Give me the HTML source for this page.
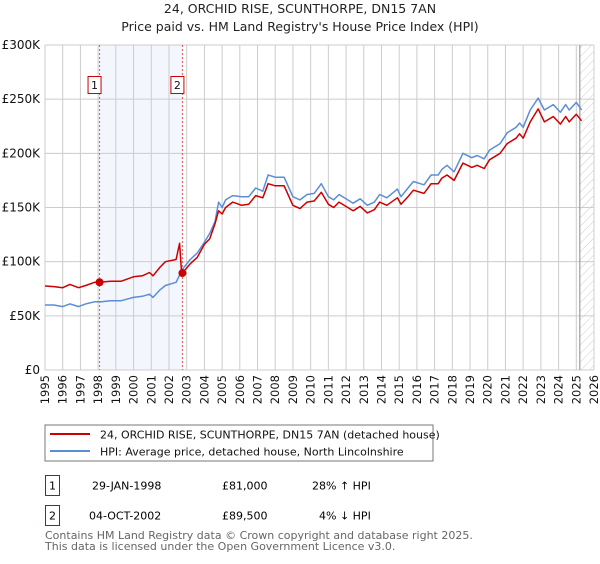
<!DOCTYPE html>
<html><head><meta charset="utf-8"><style>
body{margin:0;background:#fff;font-family:"DejaVu Sans","Liberation Sans",sans-serif;}
svg text{font-family:"DejaVu Sans","Liberation Sans",sans-serif;}
</style></head><body>
<svg id="chart" width="600" height="560" viewBox="0 0 600 560">
<defs><pattern id="hatch" patternUnits="userSpaceOnUse" width="6" height="6" patternTransform="rotate(45)"><line x1="0" y1="0" x2="0" y2="6" stroke="#ccc" stroke-width="1"/></pattern></defs>
<text x="300" y="13" text-anchor="middle" font-size="12.5" fill="#222">24, ORCHID RISE, SCUNTHORPE, DN15 7AN</text>
<text x="300" y="31" text-anchor="middle" font-size="12.5" fill="#222">Price paid vs. HM Land Registry's House Price Index (HPI)</text>
<g id="grid"></g>
<g id="series"></g>
<g id="axes"></g>
<rect x="45" y="425" width="388" height="36" fill="#fff" stroke="#777"/>
<line x1="50" y1="434" x2="90" y2="434" stroke="#cc0000" stroke-width="2"/>
<text x="100" y="438.5" font-size="11" fill="#111">24, ORCHID RISE, SCUNTHORPE, DN15 7AN (detached house)</text>
<line x1="50" y1="451" x2="90" y2="451" stroke="#5b8ed6" stroke-width="2"/>
<text x="100" y="455.5" font-size="11" fill="#111">HPI: Average price, detached house, North Lincolnshire</text>
<rect x="45.5" y="475.5" width="14" height="20" fill="none" stroke="#cc0000"/>
<text x="52.5" y="489.5" text-anchor="middle" font-size="11">1</text>
<text x="92" y="489.5" font-size="11">29-JAN-1998</text>
<text x="222" y="489.5" font-size="11">£81,000</text>
<text x="312" y="489.5" font-size="11">28% ↑ HPI</text>
<rect x="45.5" y="505.5" width="14" height="20" fill="none" stroke="#cc0000"/>
<text x="52.5" y="519.5" text-anchor="middle" font-size="11">2</text>
<text x="89" y="519.5" font-size="11">04-OCT-2002</text>
<text x="222" y="519.5" font-size="11">£89,500</text>
<text x="319" y="519.5" font-size="11">4% ↓ HPI</text>
<text x="45" y="539" font-size="11" fill="#666">Contains HM Land Registry data © Crown copyright and database right 2025.</text>
<text x="45" y="550" font-size="11" fill="#666">This data is licensed under the Open Government Licence v3.0.</text>
</svg>
<script>
const yearTicks=[1995,1996,1997,1998,1999,2000,2001,2002,2003,2004,2005,2006,2007,2008,2009,2010,2011,2012,2013,2014,2015,2016,2017,2018,2019,2020,2021,2022,2023,2024,2025,2026];
const valueTicks=[0,50000,100000,150000,200000,250000,300000];
const valueLabels=["£0","£50K","£100K","£150K","£200K","£250K","£300K"];
const hpiYears=[1995.0,1995.5,1996.0,1996.4,1996.9,1997.3,1997.8,1998.2,1998.7,1999.3,2000.0,2000.5,2000.9,2001.1,2001.5,2001.8,2002.4,2002.76,2003.2,2003.6,2004.0,2004.3,2004.6,2004.8,2005.0,2005.2,2005.6,2006.1,2006.5,2006.9,2007.3,2007.6,2008.0,2008.5,2009.0,2009.4,2009.8,2010.2,2010.6,2011.0,2011.3,2011.6,2012.1,2012.4,2012.8,2013.2,2013.6,2013.9,2014.3,2014.9,2015.1,2015.5,2015.8,2016.4,2016.8,2017.2,2017.4,2017.7,2018.1,2018.6,2019.1,2019.4,2019.8,2020.1,2020.7,2021.1,2021.6,2021.8,2022.0,2022.4,2022.85,2023.2,2023.7,2024.1,2024.4,2024.6,2025.0,2025.3];
const hpiValues=[60,60,58.5,61,58.5,61,63,63,64,64,67,68,70,67,74,78,81,93,102,108,118,126,137,155,150,157,161,160,160,168,165,180,178,178,160,157,162,163,172,160,157,162,157,154,158,152,155,162,159,167,160,168,174,171,180,180,185,189,183,200,196,198,195,203,209,219,224,228,224,240,251,240,245,238,245,240,247,240];
const propYears=[1995.0,1995.5,1996.0,1996.4,1996.9,1997.3,1997.8,1998.08,1998.7,1999.3,2000.0,2000.5,2000.9,2001.1,2001.5,2001.8,2002.4,2002.6,2002.7,2002.76,2003.2,2003.6,2004.0,2004.3,2004.6,2004.8,2005.0,2005.2,2005.6,2006.1,2006.5,2006.9,2007.3,2007.6,2008.0,2008.5,2009.0,2009.4,2009.8,2010.2,2010.6,2011.0,2011.3,2011.6,2012.1,2012.4,2012.8,2013.2,2013.6,2013.9,2014.3,2014.9,2015.1,2015.5,2015.8,2016.4,2016.8,2017.2,2017.4,2017.7,2018.1,2018.6,2019.1,2019.4,2019.8,2020.1,2020.7,2021.1,2021.6,2021.8,2022.0,2022.4,2022.85,2023.2,2023.7,2024.1,2024.4,2024.6,2025.0,2025.3];
const propValues=[77.5,77,76,79,76,78,81,81,82,82,86,87,90,87,95,100,102,117,92,89.5,98,104,116,121,135,147,144,150,155,152,153,161,159,172,170,170,152,149,155,156,164,153,150,155,150,147,151,145,148,155,152,159,153,160,166,163,172,172,177,180,175,191,187,189,186,194,200,209,214,218,214,229,241,229,234,227,234,229,236,230];
const saleYears=[1998.08,2002.76];
const salePrices=[81000,89500];
const saleLabels=["1","2"];
const forecastStart=2025.2;

const NS="http://www.w3.org/2000/svg";
const L=45,R=594,T=45,B=370;
const x=y=>L+(y-1995)/(2026-1995)*(R-L);
const yv=v=>B-v/300000*(B-T);
function mk(tag,attrs,parent){const e=document.createElementNS(NS,tag);for(const k in attrs)e.setAttribute(k,attrs[k]);parent.appendChild(e);return e;}
const grid=document.getElementById('grid'),series=document.getElementById('series'),axes=document.getElementById('axes');

let shade=mk('rect',{x:x(saleYears[0]),y:T,width:x(saleYears[1])-x(saleYears[0]),height:B-T,fill:'#f3f6fd'},grid);


let fc=mk('rect',{x:x(forecastStart),y:T,width:R-x(forecastStart),height:B-T,fill:'url(#hatch)'},grid);


yearTicks.forEach(yr=>{
  const l=mk('line',{x1:x(yr),x2:x(yr),y1:T,y2:B,stroke:'#ccc','stroke-width':1},grid);
  
  
  const tx=x(yr)+4, ty=B+5;
  const t=mk('text',{x:tx,y:ty,'text-anchor':'end','font-size':11.5,fill:'#111',transform:'rotate(-90 '+tx+' '+ty+')'},axes);
  t.textContent=yr;
  
  
});
valueTicks.forEach((v,i)=>{
  const l=mk('line',{x1:L,x2:R,y1:yv(v),y2:yv(v),stroke:'#ccc','stroke-width':1},grid);
  
  
  const t=mk('text',{x:L-5,y:yv(v)+4,'text-anchor':'end','font-size':12,fill:'#111'},axes);
  t.textContent=valueLabels[i];
  
  
});
let fl=mk('line',{x1:x(forecastStart),x2:x(forecastStart),y1:T,y2:B,stroke:'#888','stroke-width':1},grid);


saleYears.forEach((s,i)=>{
  const l=mk('line',{x1:x(s),x2:x(s),y1:T,y2:B,stroke:'#e55','stroke-width':1,'stroke-dasharray':'2,2'},grid);
  
  
  const r=mk('rect',{x:x(s)-11.5,y:76.5,width:13,height:17,fill:'#fff',stroke:'#cc0000'},axes);
  
  
  const t=mk('text',{x:x(s)-5,y:89,'text-anchor':'middle','font-size':11,fill:'#111'},axes);
  t.textContent=saleLabels[i];
  
  
});
function path(xs,vs,scale){return xs.map((a,i)=>(i?'L':'M')+x(a).toFixed(1)+','+yv(vs[i]*scale).toFixed(1)).join('');}
const hp=mk('path',{d:path(hpiYears,hpiValues,1000),fill:'none',stroke:'#5b8ed6','stroke-width':1.5,'stroke-linejoin':'round'},series);


const pp=mk('path',{d:path(propYears,propValues,1000),fill:'none',stroke:'#cc0000','stroke-width':1.5,'stroke-linejoin':'round'},series);


saleYears.forEach((s,i)=>{
  const c=mk('circle',{cx:x(s),cy:yv(salePrices[i]),r:4,fill:'#cc0000'},series);
  
  
});
</script>
</body></html>
